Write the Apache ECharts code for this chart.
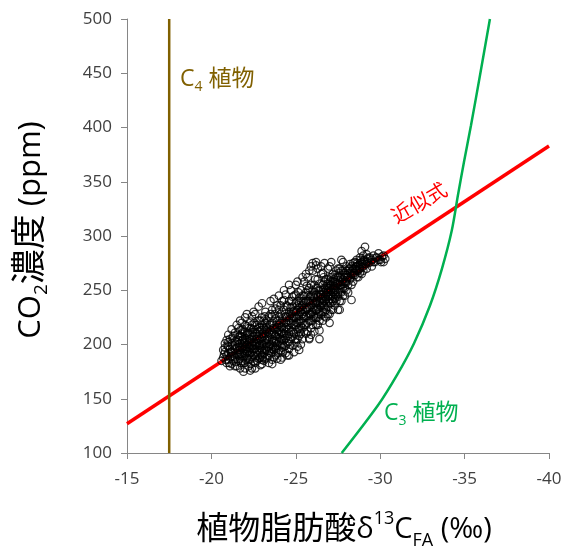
<!DOCTYPE html>
<html>
<head>
<meta charset="utf-8">
<script src="https://cdn.jsdelivr.net/npm/echarts@6/dist/echarts.min.js"></script>
<style>html,body{margin:0;padding:0;background:#fff;}#c{width:562px;height:551px;}</style>
</head>
<body>
<div id="c"></div>
<script>
var xTicks = [-15, -20, -25, -30, -35, -40];
var yTicks = [100, 150, 200, 250, 300, 350, 400, 450, 500];
var fitLine = [[-15, 127], [-40, 383]];
var c4Line = [[-17.5, 100], [-17.5, 500]];
var c3Curve = [[-27.72,100],[-29.87,144],[-31.0,172],[-32.0,201],[-32.95,236],[-33.66,270],[-34.24,305],[-34.61,338],[-34.96,368],[-35.38,402],[-35.91,448],[-36.5,500]];
var samples = [
[-20.6,185],[-20.7,195],[-20.8,201],[-20.9,190],[-21.0,198],[-21.0,186],[-21.1,205],[-21.2,193],[-21.2,182],[-21.3,199],[-21.3,208],[-21.4,188],[-21.4,196],[-21.5,203],[-21.5,180],[-20.9,204],[-21.1,188],[-21.3,192],[-20.8,193],[-21.4,211],
[-21.6,190],[-21.6,200],[-21.6,215],[-21.7,178],[-21.7,195],[-21.7,208],[-21.8,185],[-21.8,203],[-21.8,220],[-21.9,175],[-21.9,192],[-21.9,212],[-22.0,183],[-22.0,198],[-22.0,206],[-22.0,225],[-22.1,188],[-22.1,217],[-22.1,196],[-22.2,180],[-22.2,202],[-22.2,210],[-22.3,192],[-22.3,186],[-22.3,221],[-22.4,199],[-22.4,207],[-22.4,178],[-22.5,214],[-22.5,190],[-21.7,201],[-21.9,205],[-22.1,204],[-22.3,200],[-22.5,196],[-21.8,197],[-22.0,191],[-22.2,194],[-22.4,188],[-21.6,185],
[-22.6,183],[-22.6,200],[-22.6,228],[-22.7,193],[-22.7,210],[-22.7,218],[-22.8,187],[-22.8,204],[-22.8,235],[-22.9,197],[-22.9,213],[-22.9,181],[-23.0,190],[-23.0,207],[-23.0,225],[-23.0,238],[-23.1,200],[-23.1,215],[-23.1,185],[-23.2,195],[-23.2,220],[-23.2,230],[-23.3,188],[-23.3,205],[-23.3,212],[-23.4,198],[-23.4,226],[-23.4,183],[-23.5,209],[-23.5,192],[-22.7,201],[-22.9,205],[-23.1,208],[-23.3,198],[-23.5,218],[-22.6,210],[-22.8,195],[-23.0,200],[-23.2,204],[-23.4,211],
[-23.6,186],[-23.6,200],[-23.6,232],[-23.7,195],[-23.7,215],[-23.7,242],[-23.8,190],[-23.8,208],[-23.8,224],[-23.9,199],[-23.9,236],[-23.9,187],[-24.0,203],[-24.0,218],[-24.0,245],[-24.1,194],[-24.1,211],[-24.1,228],[-24.2,188],[-24.2,205],[-24.2,240],[-24.3,198],[-24.3,220],[-24.3,232],[-24.4,192],[-24.4,212],[-24.4,246],[-24.5,201],[-24.5,225],[-24.5,190],[-23.8,214],[-24.0,209],[-24.2,216],[-24.4,206],[-23.6,210],[-23.9,222],[-24.1,200],[-24.3,210],
[-24.6,196],[-24.6,215],[-24.6,240],[-24.7,205],[-24.7,228],[-24.7,250],[-24.8,199],[-24.8,218],[-24.8,235],[-24.9,210],[-24.9,245],[-24.9,193],[-25.0,202],[-25.0,225],[-25.0,238],[-25.0,255],[-25.1,214],[-25.1,232],[-25.1,198],[-25.2,208],[-25.2,243],[-25.2,222],[-25.3,200],[-25.3,230],[-25.3,250],[-25.4,215],[-25.4,236],[-25.4,205],[-25.5,225],[-25.5,258],[-24.8,226],[-25.0,230],[-25.2,227],[-25.4,228],[-24.6,222],[-25.1,220],[-25.3,240],
[-25.6,210],[-25.6,232],[-25.6,248],[-25.7,220],[-25.7,240],[-25.7,262],[-25.8,206],[-25.8,228],[-25.8,252],[-25.9,215],[-25.9,236],[-25.9,245],[-26.0,222],[-26.0,240],[-26.0,268],[-26.1,212],[-26.1,232],[-26.1,255],[-26.2,225],[-26.2,246],[-26.2,273],[-26.3,218],[-26.3,238],[-26.3,260],[-26.4,230],[-26.4,250],[-26.4,213],[-26.5,242],[-26.5,227],[-26.5,265],[-25.9,228],[-26.1,243],[-26.3,233],[-26.0,250],[-25.7,233],
[-26.6,222],[-26.6,238],[-26.6,255],[-26.7,230],[-26.7,248],[-26.7,275],[-26.8,225],[-26.8,242],[-26.8,260],[-26.9,235],[-26.9,252],[-26.9,270],[-27.0,228],[-27.0,245],[-27.0,262],[-27.1,238],[-27.1,255],[-27.1,276],[-27.2,232],[-27.2,248],[-27.2,265],[-27.3,242],[-27.3,258],[-27.3,236],[-27.4,250],[-27.4,268],[-27.4,245],[-27.5,232],[-27.5,256],[-27.5,262],[-26.7,240],[-27.0,252],[-27.3,250],[-26.9,244],
[-27.6,240],[-27.6,255],[-27.6,270],[-27.7,248],[-27.7,262],[-27.8,252],[-27.8,268],[-27.8,276],[-27.9,245],[-27.9,258],[-28.0,250],[-28.0,264],[-28.0,272],[-28.1,255],[-28.1,268],[-28.2,260],[-28.2,274],[-28.3,241],[-28.3,265],[-28.4,270],[-28.4,258],[-28.5,276],[-28.5,264],
[-28.6,268],[-28.6,278],[-28.7,262],[-28.7,273],[-28.8,270],[-28.8,280],[-28.9,265],[-28.9,276],[-29.0,272],[-29.0,282],[-29.1,290],[-29.1,277],[-29.2,270],[-29.2,283],[-29.3,275],[-29.4,280],[-29.5,278],[-29.5,272],
[-29.6,282],[-29.7,276],[-29.8,280],[-29.9,284],[-30.0,278],[-30.1,281],[-30.2,276],[-30.3,279],
[-20.7,188],[-20.8,197],[-20.9,183],[-21.0,192],[-21.0,209],[-21.1,196],[-21.1,180],[-21.2,201],[-21.2,214],[-21.3,185],[-21.4,203],[-21.4,180],[-21.5,192],[-21.5,218],[-21.6,195],[-21.6,207],[-21.7,187],[-21.7,222],[-21.8,191],[-21.8,210],[-21.9,199],[-21.9,183],[-22.0,212],[-22.0,178],[-22.1,193],[-22.1,200],[-22.1,228],[-22.2,186],[-22.2,215],[-22.3,197],[-22.3,205],[-22.4,193],[-22.4,218],[-22.5,184],[-22.5,202],[-22.5,230],[-22.6,192],[-22.6,218],[-22.7,185],[-22.7,205],[-22.8,199],[-22.8,212],[-22.8,222],[-22.9,188],[-22.9,200],[-23.0,195],[-23.0,213],[-23.1,192],[-23.1,222],[-23.2,187],[-23.2,210],[-23.3,194],[-23.3,218],[-23.4,190],[-23.4,203],[-23.5,200],[-23.5,228],
[-23.6,193],[-23.6,220],[-23.7,203],[-23.7,188],[-23.8,198],[-23.8,233],[-23.9,207],[-23.9,212],[-24.0,195],[-24.0,226],[-24.1,205],[-24.1,236],[-24.2,197],[-24.2,224],[-24.3,204],[-24.3,241],[-24.4,199],[-24.4,226],[-24.5,208],[-24.5,235],[-24.6,203],[-24.6,230],[-24.7,212],[-24.7,220],[-24.8,207],[-24.8,244],[-24.9,218],[-24.9,231],[-25.0,210],[-25.0,246],[-25.1,205],[-25.1,240],[-25.2,215],[-25.2,234],[-25.3,210],[-25.3,222],[-25.4,220],[-25.4,245],[-25.5,212],[-25.5,238],[-25.6,218],[-25.6,240],[-25.7,212],[-25.7,250],[-25.8,222],[-25.8,240],[-25.9,209],[-25.9,255],[-26.0,230],[-26.0,218],[-26.1,225],[-26.1,248],[-26.2,232],[-26.2,238],[-26.3,225],[-26.3,252],[-26.4,222],[-26.4,240],[-26.5,235],[-26.5,250],
[-26.6,230],[-26.6,246],[-26.7,235],[-26.7,258],[-26.8,232],[-26.8,250],[-26.9,228],[-26.9,260],[-27.0,238],[-27.0,256],[-27.1,245],[-27.1,232],[-27.2,240],[-27.2,258],[-27.3,246],[-27.3,264],[-27.4,240],[-27.4,256],[-27.5,248],[-27.5,270],[-27.6,248],[-27.6,262],[-27.7,255],[-27.7,240],[-27.8,260],[-27.8,245],[-27.9,252],[-27.9,266],[-28.0,258],[-28.1,262],[-28.1,248],[-28.2,266],[-28.3,255],[-28.3,272],[-28.4,264],[-28.5,270],[-28.6,262],[-28.7,268],[-28.8,275],[-28.9,271],[-29.0,277],[-29.2,276],[-29.3,280],[-29.6,276],[-29.9,278],[-30.2,282],
[-23.5,240],[-24.3,250],[-24.6,255],[-25.1,258],[-25.6,265],[-25.9,272],[-26.2,276],[-26.5,272],[-26.3,270],[-26.0,275],
[-22.3,176],[-22.6,178],[-23.0,182],[-23.6,182],[-24.1,186],[-24.6,190],[-25.2,195],[-25.8,205],[-26.4,205],[-27.0,220],[-27.6,232],
[-21.5,197],[-21.6,204],[-21.7,192],[-21.8,207],[-21.9,196],[-22.0,202],[-22.1,209],[-22.2,198],[-22.3,210],[-22.4,202],[-22.5,208],[-22.6,196],[-22.7,214],[-22.8,208],[-22.9,192],[-23.0,218],[-23.1,196],[-23.2,214],[-23.3,222],[-23.4,207],[-23.5,213],[-23.6,205],[-23.7,210],[-23.8,202],[-23.9,216],[-24.0,213],[-24.1,220],[-24.2,210],[-24.3,215],[-24.4,220],[-24.5,214],[-21.9,188],[-22.2,190],[-22.6,188],[-23.0,186],[-23.4,194],[-23.8,196],[-24.2,200],[-22.9,222],[-22.4,226],[-23.6,226],[-24.0,232],[-22.0,218],[-21.7,213],[-21.4,200],[-21.2,189],[-21.0,202],
[-24.6,210],[-24.7,234],[-24.8,212],[-24.9,225],[-25.0,218],[-25.1,226],[-25.2,238],[-25.3,217],[-25.4,232],[-25.5,218],[-25.5,245],[-25.6,226],[-25.7,245],[-25.8,234],[-25.9,222],[-26.0,234],[-26.0,245],[-26.1,238],[-26.2,218],[-26.2,252],[-26.3,244],[-26.4,236],[-26.4,256],[-26.5,246],[-26.6,242],[-26.6,250],[-26.7,252],[-26.7,226],[-26.8,246],[-26.8,238],[-26.9,248],[-26.9,256],[-27.0,242],[-27.1,250],[-27.1,262],[-27.2,254],[-27.2,244],[-27.3,254],[-27.4,262],[-27.5,244],[-27.6,258],[-27.7,268],[-27.8,256],[-27.9,262],[-28.0,268],[-28.2,270],[-28.4,275],[-28.6,272],[-28.8,266],[-29.0,268],
[-25.4,262],[-25.8,268],[-26.6,266],[-27.0,272],[-27.7,278],[-28.9,286],
[-20.75,191],[-20.85,186],[-20.95,199],[-21.05,183],[-21.15,193],[-21.25,206],[-21.35,189],[-21.45,184],[-21.55,209],[-21.65,198],[-21.75,183],[-21.85,214],[-21.95,201],[-22.05,186],[-22.15,211],[-22.25,205],[-22.35,182],[-22.45,196],[-22.55,220],[-22.65,205],[-22.75,190],[-22.85,216],[-22.95,203],[-23.05,188],[-23.15,226],[-23.25,200],[-23.35,208],[-23.45,218],[-23.55,196],[-23.65,215],[-23.75,228],[-23.85,203],[-23.95,192],[-24.05,222],[-24.15,216],[-24.25,193],[-24.35,228],[-24.45,236],[-24.55,218],[-24.65,200],[-24.75,240],[-24.85,222],[-24.95,205],[-25.05,235],[-25.15,248],[-25.25,212],[-25.35,235],[-25.45,226],[-25.55,230],[-25.65,254],[-25.75,226],[-25.85,244],[-25.95,230],[-26.05,226],[-26.15,260],[-26.25,240],[-26.35,228],[-26.45,246],[-26.55,238],[-26.65,262],[-26.75,244],[-26.85,254],[-26.95,240],[-27.05,250],[-27.15,242],[-27.25,260],[-27.35,248],[-27.45,256],[-27.55,266],[-27.65,252],[-27.75,258],[-27.85,264],[-27.95,256],[-28.05,262],[-28.15,270],[-28.25,262],[-28.35,268],[-28.45,266],[-28.55,272],[-28.65,275],[-28.75,270],[-28.85,278],[-28.95,274],[-29.05,278],[-29.15,274],[-29.25,279],[-29.45,276],[-29.75,280],[-30.05,276],
[-22.05,194],[-22.25,197],[-22.45,211],[-22.65,200],[-22.85,200],[-23.05,210],[-23.25,216],[-23.45,200],[-23.65,198],[-23.85,218],[-24.05,206],[-24.25,208],[-24.45,216],[-24.65,226],[-24.85,230],[-25.05,220],[-25.25,230],[-25.45,240],[-25.65,234],[-25.85,238],[-26.05,244],[-26.25,232],[-26.45,238],[-26.65,236],[-26.85,248],[-27.05,258],[-27.25,252],[-21.85,204],[-21.65,191],[-22.35,215]
];

var FONT = "'Open Sans', 'Noto Sans CJK JP', sans-serif";
var chart = echarts.init(document.getElementById('c'), null, {renderer: 'canvas'});
chart.setOption({
  animation: false,
  backgroundColor: '#fff',
  grid: {left: 127, right: 13, top: 19, bottom: 98, containLabel: false, outerBoundsMode: 'none'},
  xAxis: {
    type: 'value', min: -40, max: -15, interval: 5, inverse: true,
    axisLine: {show: true, lineStyle: {color: '#868686', width: 1}},
    axisTick: {show: true, length: 6, lineStyle: {color: '#868686'}},
    splitLine: {show: false},
    axisLabel: {margin: 18, color: '#404040', fontSize: 17, fontFamily: FONT,
      formatter: function (v) { return xTicks.indexOf(v) >= 0 ? String(v) : ''; }}
  },
  yAxis: {
    type: 'value', min: 100, max: 500, interval: 50,
    axisLine: {show: true, lineStyle: {color: '#868686', width: 1}},
    axisTick: {show: true, length: 6, lineStyle: {color: '#868686'}},
    splitLine: {show: false},
    axisLabel: {margin: 15, color: '#404040', fontSize: 17, fontFamily: FONT,
      formatter: function (v) { return yTicks.indexOf(v) >= 0 ? String(v) : ''; }}
  },
  series: [
    {type: 'line', data: fitLine, showSymbol: false, lineStyle: {color: '#ff0000', width: 3.5}, z: 2},
    {type: 'line', data: c3Curve, smooth: 0.3, showSymbol: false, lineStyle: {color: '#00b050', width: 2.5}, z: 2},
    {type: 'line', data: c4Line, showSymbol: false, lineStyle: {color: '#806000', width: 2.5}, z: 2},
    {type: 'scatter', data: samples, symbol: 'circle', symbolSize: 7.5,
      itemStyle: {color: 'rgba(0,0,0,0)', borderColor: '#000', borderWidth: 1.2}, z: 3}
  ],
  graphic: [
    {type: 'text', left: 180, top: 68, style: {
      text: '{m|C}{s|4}{m| 植物}',
      rich: {m: {fontSize: 23, fill: '#806000', fontFamily: FONT, lineHeight: 30},
             s: {fontSize: 14, fill: '#806000', fontFamily: FONT, lineHeight: 30, verticalAlign: 'bottom'}}}},
    {type: 'text', left: 384, top: 402, style: {
      text: '{m|C}{s|3}{m| 植物}',
      rich: {m: {fontSize: 23, fill: '#00b050', fontFamily: FONT, lineHeight: 30},
             s: {fontSize: 14, fill: '#00b050', fontFamily: FONT, lineHeight: 30, verticalAlign: 'bottom'}}}},
    {type: 'text', x: 420, y: 204, rotation: 30 * Math.PI / 180, style: {
      text: '近似式', fontSize: 20, fill: '#ff0000', fontFamily: FONT, align: 'center', verticalAlign: 'middle'}},
    {type: 'text', x: 31, y: 230, rotation: Math.PI / 2, style: {
      text: '{m|CO}{s|2}{j|濃度}{m| (ppm)}', align: 'center', verticalAlign: 'middle',
      rich: {m: {fontSize: 31, fill: '#000', fontFamily: FONT, lineHeight: 40},
             j: {fontSize: 35, fill: '#000', fontFamily: FONT, lineHeight: 40},
             s: {fontSize: 19, fill: '#000', fontFamily: FONT, lineHeight: 40, verticalAlign: 'bottom'}}}},
    {type: 'text', x: 344, y: 530, style: {
      text: '{j|植物脂肪酸}{m|δ}{p|13}{m|C}{s|FA}{m| (‰)}', align: 'center', verticalAlign: 'middle',
      rich: {m: {fontSize: 29, fill: '#000', fontFamily: FONT, lineHeight: 40},
             j: {fontSize: 32, fill: '#000', fontFamily: FONT, lineHeight: 40},
             p: {fontSize: 18, fill: '#000', fontFamily: FONT, lineHeight: 40, verticalAlign: 'top'},
             s: {fontSize: 18, fill: '#000', fontFamily: FONT, lineHeight: 40, verticalAlign: 'bottom'}}}}
  ]
});
</script>
</body>
</html>
